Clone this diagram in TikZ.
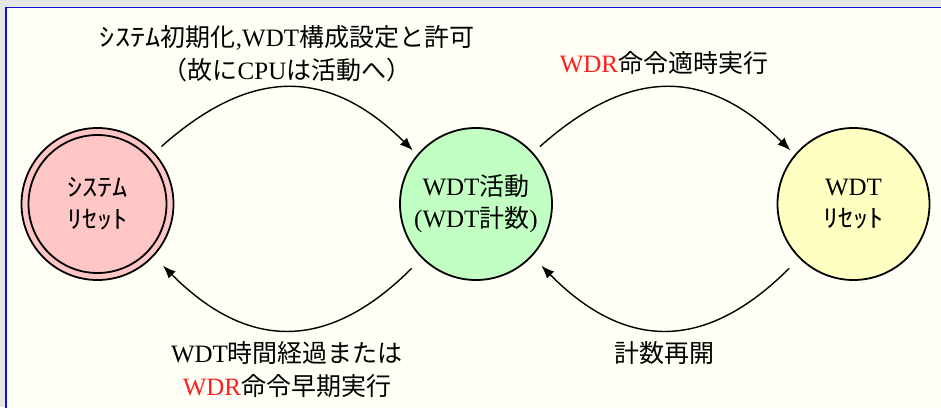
\documentclass[tikz,border=0pt]{standalone}
\usepackage{fontspec}
\usepackage{graphicx}
\setmainfont{Liberation Serif}
\newfontfamily\cjk{Noto Sans CJK JP}
\newcommand\J[1]{{\cjk #1}}
\newcommand\HK[1]{\scalebox{1.22}[1]{\cjk #1}}
\usetikzlibrary{arrows.meta}
\definecolor{bgrey}{RGB}{230,230,230}
\definecolor{panel}{RGB}{255,255,246}
\definecolor{framec}{RGB}{16,16,208}
\definecolor{pinkf}{RGB}{255,198,198}
\definecolor{greenf}{RGB}{194,255,194}
\definecolor{yellowf}{RGB}{255,255,194}
\definecolor{wdrred}{RGB}{255,30,30}
\tikzset{
  state/.style={circle, draw=black, line width=1.8pt, minimum size=152pt, inner sep=0pt,
    align=center, font=\fontsize{25}{32}\selectfont},
  lbl/.style={align=center, inner sep=0pt, font=\fontsize{25}{33}\selectfont},
  arr/.style={line width=1.4pt, -{Latex[length=13pt,width=10pt]}},
}
\begin{document}
\begin{tikzpicture}[x=1pt,y=-1pt]
\useasboundingbox (0,0) rectangle (941,407);
\fill[bgrey] (0,0) rectangle (941,407);
\draw[framec, line width=1.7pt, fill=panel] (6.2,7.5) rectangle (960,430);

\node[state, fill=pinkf] (sr) at (97.5,204) {\HK{ｼｽﾃﾑ}\\\HK{ﾘｾｯﾄ}};
\draw[line width=1.8pt] (sr.center) circle[radius=69pt];
\node[state, fill=greenf] (wa) at (476,204) {WDT\J{活動}\\(WDT\J{計数})};
\node[state, fill=yellowf] (wr) at (853.5,204) {WDT\\\HK{ﾘｾｯﾄ}};

\node[lbl] (l1) at (287,53.5) {\HK{ｼｽﾃﾑ}\J{初期化},WDT\J{構成設定と許可}\\\J{（故に}CPU\J{は活動へ）}};
\node[lbl] (l2) at (664,63.5) {\textcolor{wdrred}{WDR}\J{命令適時実行}};
\node[lbl] (l3) at (287,370) {WDT\J{時間経過または}\\\textcolor{wdrred}{WDR}\J{命令早期実行}};
\node[lbl] (l4) at (664,353.5) {\J{計数再開}};

\draw[arr, shorten <=9pt, shorten >=6pt] (sr.42) .. controls (251,67) and (328,67) .. (wa.140);
\draw[arr, shorten <=9pt, shorten >=6pt] (wa.42) .. controls (629.5,67) and (706.5,67) .. (wr.140);
\draw[arr, shorten <=14pt, shorten >=13pt] (wa.225) .. controls (327,353) and (247,350) .. (sr.-43);
\draw[arr, shorten <=14pt, shorten >=13pt] (wr.225) .. controls (704.5,353) and (624.5,350) .. (wa.-43);
\end{tikzpicture}
\end{document}
